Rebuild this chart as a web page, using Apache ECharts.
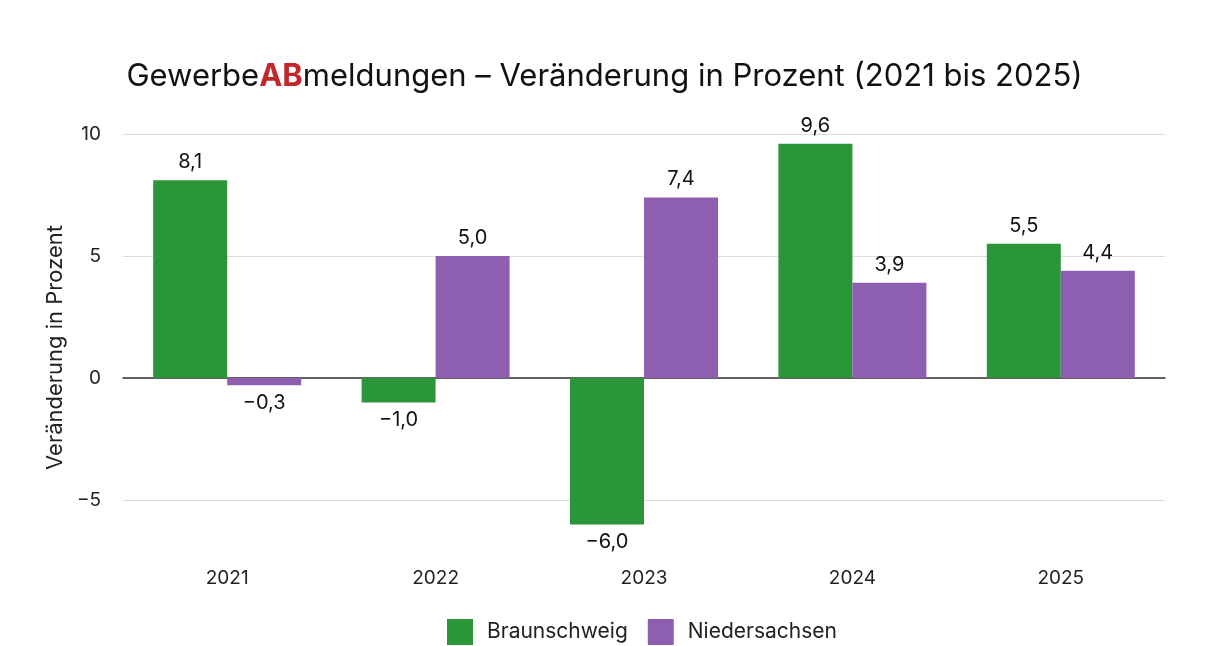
<!DOCTYPE html>
<html>
<head>
<meta charset="utf-8">
<script src="https://cdn.jsdelivr.net/npm/echarts@6/dist/echarts.min.js"></script>
<style>
html,body{margin:0;padding:0;background:#ffffff;}
#chart{width:1209px;height:646px;}
</style>
</head>
<body>
<div id="chart"></div>
<script>
const categories = ['2021', '2022', '2023', '2024', '2025'];
const braunschweig = [8.1, -1.0, -6.0, 9.6, 5.5];
const niedersachsen = [-0.3, 5.0, 7.4, 3.9, 4.4];
const seriesNames = ['Braunschweig', 'Niedersachsen'];

const FONT = 'Inter, "Open Sans", sans-serif';
const fmt = v => v.toFixed(1).replace('.', ',').replace('-', '\u2212');

const chart = echarts.init(document.getElementById('chart'));
chart.setOption({
  backgroundColor: '#ffffff',
  animation: false,
  title: {
    text: '{n|Gewerbe}{r|AB}{n|meldungen \u2013 Ver\u00e4nderung in Prozent (2021 bis 2025)}',
    left: 'center',
    top: 56,
    textStyle: {
      rich: {
        n: { fontFamily: FONT, fontSize: 31, color: '#111111', fontWeight: 'normal' },
        r: { fontFamily: FONT, fontSize: 31, color: '#c1272d', fontWeight: 'bold' }
      }
    }
  },
  legend: {
    data: seriesNames,
    bottom: -4,
    left: 442,
    itemWidth: 26,
    itemHeight: 26,
    itemGap: 20,
    icon: 'rect',
    textStyle: { fontFamily: FONT, fontSize: 21, color: '#222', padding: [0, 0, 0, 9] }
  },
  grid: { left: 123, right: 44, top: 134, bottom: 85 },
  xAxis: {
    type: 'category',
    data: categories,
    axisLine: { onZero: true, lineStyle: { color: '#333', width: 1.5 } },
    axisTick: { show: false },
    axisLabel: {
      fontFamily: FONT, fontSize: 19, color: '#222',
      margin: 8
    },
    position: 'bottom'
  },
  yAxis: {
    type: 'value',
    min: -7.5,
    max: 10,
    interval: 2.5,
    name: 'Ver\u00e4nderung in Prozent',
    nameLocation: 'middle',
    nameGap: 54,
    nameTextStyle: { fontFamily: FONT, fontSize: 22, color: '#222' },
    axisLine: { show: false },
    axisTick: { show: false },
    axisLabel: {
      fontFamily: FONT, fontSize: 19, color: '#222', margin: 22,
      formatter: v => (Math.abs(v % 5) < 1e-9 ? String(v).replace('-', '\u2212') : '')
    },
    splitLine: { lineStyle: { color: ['transparent', '#dcdcdc'], width: 1 } }
  },
  series: [
    {
      name: seriesNames[0], type: 'bar', data: braunschweig,
      barWidth: 74, barGap: '0%',
      itemStyle: { color: '#2a9639' },
      label: { show: true, position: 'outside', formatter: p => fmt(p.value),
        fontFamily: FONT, fontSize: 20, color: '#111', distance: 8 }
    },
    {
      name: seriesNames[1], type: 'bar', data: niedersachsen,
      barWidth: 74, barGap: '0%',
      itemStyle: { color: '#8e5fb0' },
      label: { show: true, position: 'outside', formatter: p => fmt(p.value),
        fontFamily: FONT, fontSize: 20, color: '#111', distance: 8 }
    }
  ]
});
</script>
</body>
</html>
